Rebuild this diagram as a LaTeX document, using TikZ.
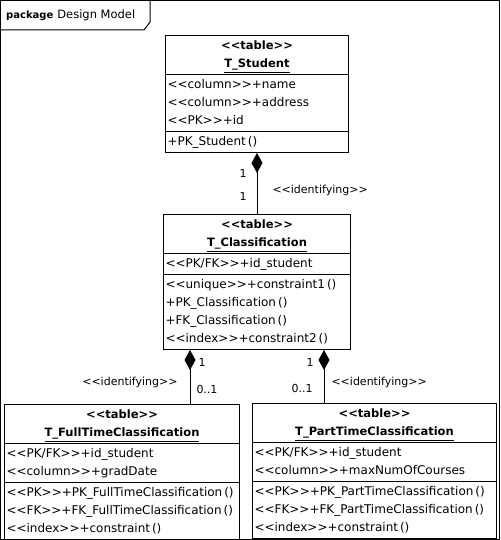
\documentclass[tikz,border=0pt]{standalone}
\usepackage{fontspec}
\setmainfont{DejaVu Sans}[Ligatures=TeXOff]
\usetikzlibrary{shapes.multipart,arrows.meta,positioning}
\newcommand{\ttl}[1]{{\fontsize{11.5}{18}\selectfont\bfseries #1}}
\newcommand{\ctrline}[1]{\makebox[\hsize]{\strut#1}}
\tikzset{
  tbl/.style={rectangle split,rectangle split parts=3,draw,line width=1pt,
    text width=#1,align=left,inner xsep=2pt,inner ysep=1pt,
    font=\fontsize{12}{18}\selectfont},
  comp/.style={{Diamond[length=20pt,width=11pt]}-,line width=1pt},
  lbl/.style={font=\fontsize{11}{14}\selectfont,inner sep=1pt},
}

\begin{document}
\begin{tikzpicture}[x=1pt,y=-1pt]
  \useasboundingbox (0,0) rectangle (500,540);
  % package frame
  \draw[line width=1pt] (0.5,0.5) rectangle (499.5,539.5);
  \node[anchor=west,inner sep=0pt,font=\fontsize{11.5}{14}\selectfont] (pkg) at (6,15)
    {{\fontsize{10}{12}\selectfont\bfseries package}\hspace{4pt}Design Model};
  \draw[line width=1pt] (0.5,30) -- (144,30) -- (150,22) -- (150,0.5);

  % tables
  \node[tbl=179pt,anchor=north west] (stu) at (165,35)
    {\ctrline{\ttl{<<table>>}}\\\ctrline{\underline{\ttl{T\_Student}}}
     \nodepart{two}\strut<<column>>+name\\\strut<<column>>+address\\\strut<<PK>>+id
     \nodepart{three}\strut+PK\_Student\,()};
  \node[tbl=183pt,below=61pt of stu] (cls)
    {\ctrline{\ttl{<<table>>}}\\\ctrline{\underline{\ttl{T\_Classification}}}
     \nodepart{two}\strut<<PK/FK>>+id\_student
     \nodepart{three}\strut<<unique>>+constraint1\,()\\\strut+PK\_Classification\,()\\
       \strut+FK\_Classification\,()\\\strut<<index>>+constraint2\,()};
  \node[tbl=231pt,anchor=north west] (full) at (4,404)
    {\ctrline{\ttl{<<table>>}}\\\ctrline{\underline{\ttl{T\_FullTimeClassification}}}
     \nodepart{two}\strut<<PK/FK>>+id\_student\\\strut<<column>>+gradDate
     \nodepart{three}\strut<<PK>>+PK\_FullTimeClassification\,()\\
       \strut<<FK>>+FK\_FullTimeClassification\,()\\\strut<<index>>+constraint\,()};
  \node[tbl=240pt,anchor=north west] (part) at (252,403)
    {\ctrline{\ttl{<<table>>}}\\\ctrline{\underline{\ttl{T\_PartTimeClassification}}}
     \nodepart{two}\strut<<PK/FK>>+id\_student\\\strut<<column>>+maxNumOfCourses
     \nodepart{three}\strut<<PK>>+PK\_PartTimeClassification\,()\\
       \strut<<FK>>+FK\_PartTimeClassification\,()\\\strut<<index>>+constraint\,()};

  % identifying relationships
  \draw[comp] (stu.south) -- (stu.south |- cls.north)
    node[lbl,pos=.33,left=9pt] (m1) {1}
    node[lbl,pos=.72,left=9pt] (m2) {1}
    node[lbl,pos=.61,right=14pt] (r1) {<<identifying>>};
  \draw[comp] ([xshift=-67pt]cls.south) -- ([xshift=-67pt]cls.south |- full.north)
    node[lbl,pos=.24,right=7pt] (m3) {1}
    node[lbl,pos=.74,right=5pt] (m4) {0..1}
    node[lbl,pos=.61,left=11pt] (r2) {<<identifying>>};
  \draw[comp] ([xshift=67pt]cls.south) -- ([xshift=67pt]cls.south |- part.north)
    node[lbl,pos=.24,left=9pt] (m5) {1}
    node[lbl,pos=.72,left=10pt] (m6) {0..1}
    node[lbl,pos=.61,right=6pt] (r3) {<<identifying>>};
\end{tikzpicture}
\end{document}
